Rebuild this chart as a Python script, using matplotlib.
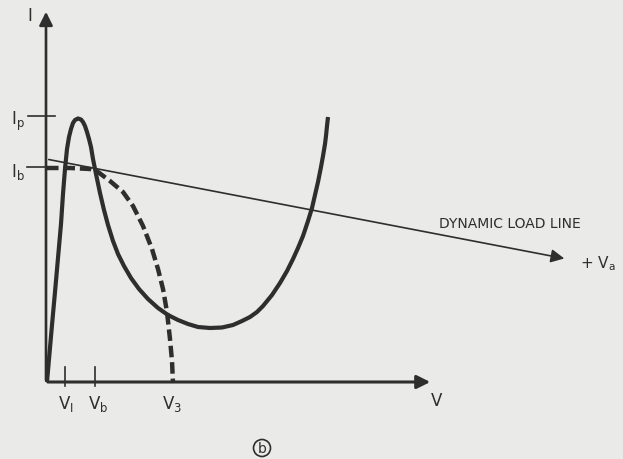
import numpy as np
import matplotlib
matplotlib.use("Agg")
import matplotlib.pyplot as plt

# points (pixel units, y grows downward)
solid_x = [47, 49, 52, 55, 58, 61, 63, 65, 67, 69, 71, 73, 75, 78, 81, 83, 85, 87, 89, 91, 93, 96,
           100, 104, 108, 113, 118, 124, 131, 139, 148, 158, 168, 178, 188, 198, 210, 222, 233,
           242, 250, 257, 263, 272, 280, 287, 293, 298, 303, 308, 312, 315, 318, 321, 323, 325, 326, 327, 328]
solid_y = [383, 360, 326, 293, 259, 225, 195, 170, 150, 138, 130, 124, 121, 119.5, 120.5, 123, 127, 133, 140,
           148, 160, 175, 194, 211, 226, 242, 255, 267, 279, 290, 300, 309, 316, 321, 325, 328, 329,
           328.5, 326, 322, 318, 313, 307, 296, 284, 272, 260, 249, 237, 222, 209, 196, 183, 168, 157,
           145, 137, 127, 118]

dash_x = [47, 70, 90, 98, 110, 123, 133, 143, 152, 158, 163, 167, 170, 172, 173]
dash_y = [169, 169, 170, 173, 182, 193, 207, 227, 250, 270, 290, 313, 340, 362, 384]

load_x = [46, 567]
load_y = [160, 260]

origin = (46, 383)
v_ticks = [65, 95]
v_labels = ["V$_\\mathregular{I}$", "V$_\\mathregular{b}$", "V$_\\mathregular{3}$"]
v_label_x = [66, 98, 172]
i_ticks = [117, 168]
i_labels = ["I$_\\mathregular{p}$", "I$_\\mathregular{b}$"]

ink = "#2e2e2e"
bg = "#eaeae8"

fig = plt.figure(figsize=(6.23, 4.6), dpi=100, facecolor=bg)
ax = fig.add_axes([0, 0, 1, 1])
ax.set_facecolor(bg)
ax.set_xlim(0, 623)
ax.set_ylim(460, 0)
ax.axis("off")

# axes with arrows
ax.annotate("", xy=(origin[0], 10), xytext=(origin[0], origin[1] + 1),
            arrowprops=dict(arrowstyle="-|>", lw=1.9, color=ink, mutation_scale=20))
ax.annotate("", xy=(433, origin[1]), xytext=(origin[0] - 1, origin[1]),
            arrowprops=dict(arrowstyle="-|>", lw=2.2, color=ink, mutation_scale=20))

# load line
ax.annotate("", xy=(load_x[1], load_y[1]), xytext=(load_x[0], load_y[0]),
            arrowprops=dict(arrowstyle="-|>", lw=1.2, color=ink, mutation_scale=20))

# characteristic curves
ax.plot(solid_x, solid_y, color=ink, lw=3.0, solid_capstyle="butt", solid_joinstyle="round")
ax.plot(dash_x, dash_y, color=ink, lw=3.2, dashes=(2.6, 1.1), dash_joinstyle="round")

# ticks on the axes
ax.plot([28, 55], [i_ticks[0], i_ticks[0]], color=ink, lw=1.2)
ax.plot([27, 47], [i_ticks[1], i_ticks[1]], color=ink, lw=1.2)
for vx in v_ticks:
    ax.plot([vx, vx], [368, 387], color=ink, lw=1.2)

# labels
fs = 12
ax.text(30, 16, "I", fontsize=fs, color=ink, ha="center", va="center")
ax.text(437, 401, "V", fontsize=fs, color=ink, ha="center", va="center")
for yy, lab in zip(i_ticks, i_labels):
    ax.text(18, yy + 4, lab, fontsize=fs, color=ink, ha="center", va="center")
for xx, lab in zip(v_label_x, v_labels):
    ax.text(xx, 404, lab, fontsize=fs, color=ink, ha="center", va="center")
ax.text(510, 224, "DYNAMIC LOAD LINE", fontsize=10, color=ink, ha="center", va="center")
ax.text(598, 264, "+ V$_\\mathregular{a}$", fontsize=11, color=ink, ha="center", va="center")
ax.text(262, 449, "b", fontsize=10, color=ink, ha="center", va="center")
ax.add_patch(plt.Circle((262, 449), 8.5, fill=False, color=ink, lw=1.2))

fig.savefig("out.png", dpi=100, facecolor=bg)
